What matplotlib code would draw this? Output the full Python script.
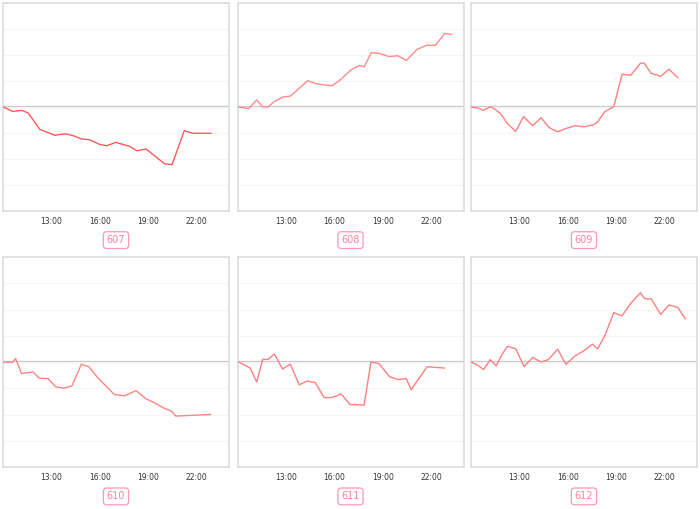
import numpy as np
import matplotlib.pyplot as plt
from matplotlib.ticker import FixedLocator, FuncFormatter

# hours of the day (decimal) and relative values per room
t607 = [10.02, 10.60, 11.15, 11.56, 12.28, 13.21, 13.83, 14.34, 14.86, 15.37, 15.99,
        16.44, 16.98, 17.84, 18.29, 18.87, 20.00, 20.47, 21.23, 21.75, 22.88]
v607 = [0, -0.17, -0.13, -0.23, -0.86, -1.09, -1.03, -1.10, -1.23, -1.26, -1.44,
        -1.49, -1.36, -1.51, -1.68, -1.62, -2.18, -2.22, -0.91, -1.01, -1.01]

t608 = [10.08, 10.70, 11.19, 11.56, 11.91, 12.28, 12.79, 13.27, 13.82, 14.34, 14.85,
        15.37, 15.88, 16.40, 17.01, 17.57, 17.84, 18.29, 18.80, 19.38, 19.93, 20.47,
        21.13, 21.75, 22.26, 22.84, 23.25]
v608 = [0, -0.06, 0.27, 0, 0.01, 0.21, 0.38, 0.42, 0.72, 1.01, 0.90,
        0.85, 0.82, 1.06, 1.42, 1.60, 1.54, 2.09, 2.06, 1.94, 1.97, 1.79,
        2.22, 2.38, 2.37, 2.83, 2.79]

t609 = [10.02, 10.43, 10.78, 11.19, 11.50, 11.85, 12.26, 12.77, 13.25, 13.82, 14.34,
        14.83, 15.37, 15.92, 16.44, 16.99, 17.57, 17.84, 18.29, 18.84, 19.36, 19.89,
        20.49, 20.72, 21.17, 21.75, 22.26, 22.81]
v609 = [0, -0.04, -0.13, 0.01, -0.09, -0.27, -0.64, -0.94, -0.37, -0.72, -0.41,
        -0.79, -0.95, -0.82, -0.72, -0.76, -0.69, -0.58, -0.18, 0.01, 1.26, 1.22,
        1.68, 1.69, 1.29, 1.18, 1.45, 1.13]

t610 = [10.02, 10.60, 10.78, 11.15, 11.87, 12.24, 12.79, 13.25, 13.76, 14.27, 14.85,
        15.32, 15.87, 16.90, 17.52, 18.24, 18.85, 19.37, 19.98, 20.45, 20.70, 22.86]
v610 = [0, -0.01, 0.13, -0.44, -0.38, -0.62, -0.63, -0.94, -1.00, -0.91, -0.09,
        -0.18, -0.60, -1.24, -1.29, -1.09, -1.40, -1.55, -1.76, -1.88, -2.06, -2.00]

t611 = [10.08, 10.78, 11.19, 11.56, 11.91, 12.28, 12.79, 13.27, 13.82, 14.30, 14.81,
        15.37, 15.88, 16.42, 16.97, 17.84, 18.27, 18.76, 19.42, 19.93, 20.45, 20.76,
        21.75, 22.81]
v611 = [0, -0.23, -0.76, 0.10, 0.10, 0.31, -0.27, -0.08, -0.87, -0.73, -0.78,
        -1.36, -1.35, -1.22, -1.62, -1.64, 0, -0.06, -0.56, -0.67, -0.63, -1.05,
        -0.18, -0.23]

t612 = [10.02, 10.43, 10.78, 11.19, 11.56, 11.91, 12.26, 12.77, 13.29, 13.82, 14.34,
        14.79, 15.37, 15.88, 16.44, 16.95, 17.53, 17.84, 18.29, 18.84, 19.36, 19.89,
        20.49, 20.76, 21.17, 21.75, 22.26, 22.81, 23.27]
v612 = [0, -0.13, -0.29, 0.09, -0.15, 0.28, 0.60, 0.50, -0.18, 0.17, 0,
        0.09, 0.49, -0.09, 0.23, 0.41, 0.68, 0.50, 1.00, 1.88, 1.76, 2.23,
        2.64, 2.41, 2.40, 1.81, 2.17, 2.08, 1.65]

rooms = ["607", "608", "609", "610", "611", "612"]
times = [t607, t608, t609, t610, t611, t612]
values = [v607, v608, v609, v610, v611, v612]
line_colors = ["#ff5a5a", "#ff8a8a", "#ff8080", "#ff8585", "#ff8080", "#ff8080"]
tick_hours = [13, 16, 19, 22]

fig = plt.figure(figsize=(7, 5.09), dpi=100)

col_left = [3 / 700, 237.5 / 700, 471 / 700]
col_w = 226 / 700
row_bottom = [1 - 211 / 509, 1 - 467 / 509]
row_h = [208 / 509, 210 / 509]

for i, room in enumerate(rooms):
    r, c = divmod(i, 3)
    ax = fig.add_axes([col_left[c], row_bottom[r], col_w, row_h[r]])
    ax.set_xlim(10, 24)
    ax.set_ylim(-4, 4)
    ax.set_yticks(np.arange(-3, 4))
    ax.yaxis.grid(True, color="#f4f4f4", lw=0.8)
    ax.set_yticklabels([])
    ax.xaxis.set_major_locator(FixedLocator(tick_hours))
    ax.xaxis.set_major_formatter(FuncFormatter(lambda x, p: f"{int(x)}:00"))
    ax.tick_params(length=0, labelsize=5.5, labelcolor="#333333", pad=4)
    for s in ax.spines.values():
        s.set_color("#dddddd")
        s.set_linewidth(1.2)
    ax.axhline(0, color="#c8c8c8", lw=1.6, zorder=1)
    ax.plot(times[i], values[i], color=line_colors[i], lw=1.0, zorder=3)
    ax.text(0.5, -0.14, room, transform=ax.transAxes, ha="center", va="center",
            fontsize=7, color="#ff7fa0",
            bbox=dict(boxstyle="round,pad=0.35", fc="white", ec="#ff9ab5", lw=0.9))

fig.savefig("out.png", dpi=100)
